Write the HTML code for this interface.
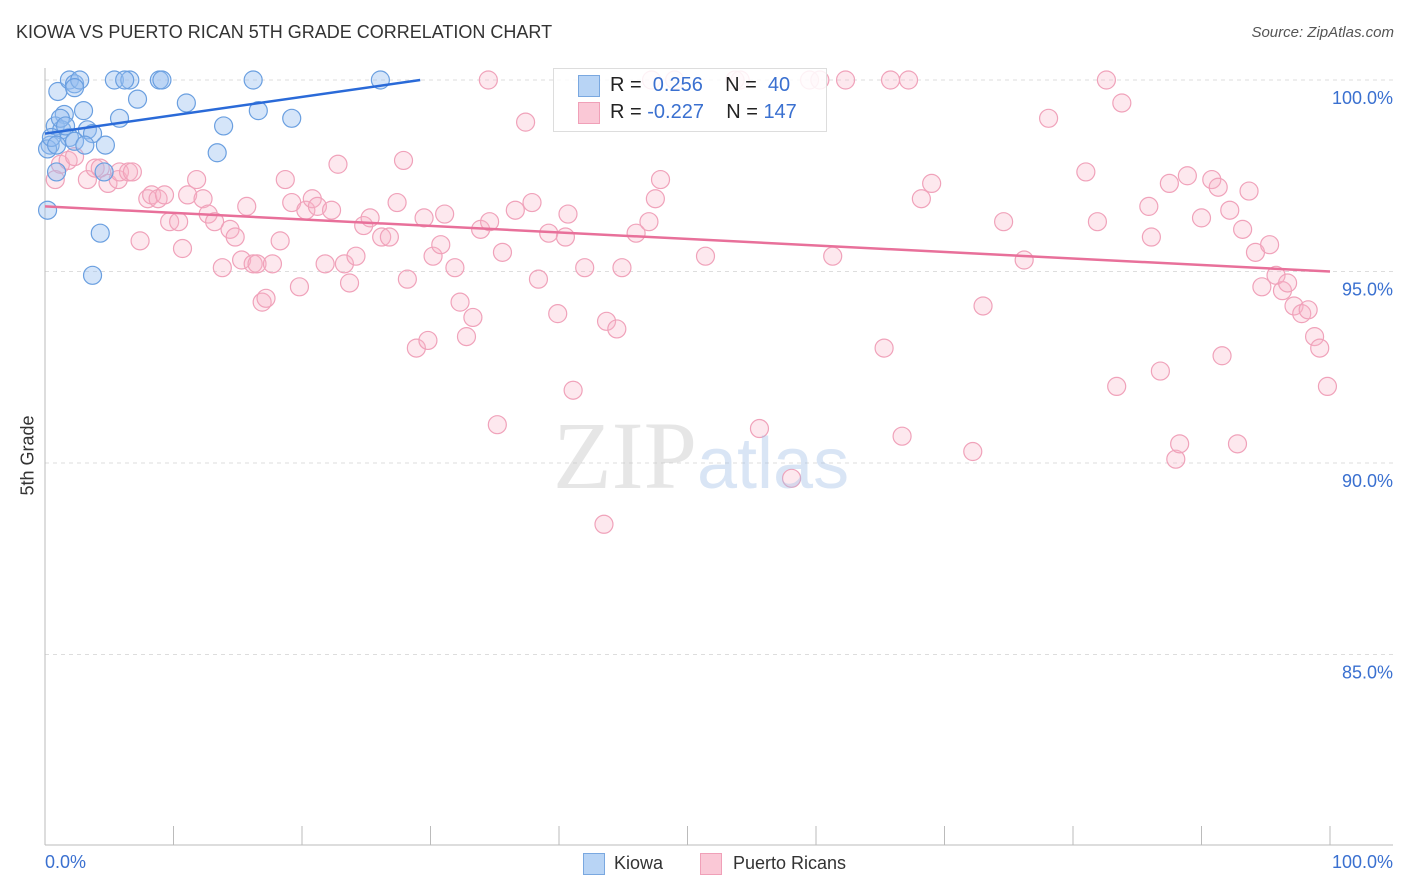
<!DOCTYPE html>
<html><head><meta charset="utf-8">
<style>
body{margin:0;background:#fff;font-family:"Liberation Sans",sans-serif;}
#wrap{position:relative;width:1406px;height:892px;overflow:hidden;}
.t{position:absolute;white-space:nowrap;}
</style></head>
<body>
<div id="wrap">
<div class="t" style="left:16px;top:22px;font-size:18px;color:#333;">KIOWA VS PUERTO RICAN 5TH GRADE CORRELATION CHART</div>
<div class="t" style="right:12px;top:24px;font-size:15px;color:#555;font-style:italic;">Source: ZipAtlas.com</div>
<div class="t" style="left:-12px;top:445px;font-size:18px;color:#333;transform:rotate(-90deg);">5th Grade</div>
<svg id="chart" width="1406" height="892" style="position:absolute;left:0;top:0"></svg>
<div class="t" style="left:553px;top:68px;width:272px;height:62px;border:1px solid #ddd;background:rgba(255,255,255,0.85);"></div>
<div class="t" style="left:578px;top:75px;width:20px;height:20px;background:#b8d4f5;border:1px solid #7aa8e0;"></div>
<div class="t" style="left:578px;top:102px;width:20px;height:20px;background:#fac8d6;border:1px solid #f0a0b8;"></div>
<div class="t" style="left:610px;top:74px;font-size:20px;color:#222;">R = &nbsp;<span style="color:#3a70d0">0.256</span>&nbsp;&nbsp;&nbsp; N = &nbsp;<span style="color:#3a70d0">40</span></div>
<div class="t" style="left:610px;top:101px;font-size:20px;color:#222;">R = <span style="color:#3a70d0">-0.227</span>&nbsp;&nbsp;&nbsp; N = <span style="color:#3a70d0">147</span></div>
<div class="t" style="left:553px;top:400px;font-size:96px;font-family:'Liberation Serif',serif;color:rgba(200,200,200,0.45);">ZIP<span style="font-family:'Liberation Sans',sans-serif;font-size:72px;color:rgba(160,190,230,0.4);">atlas</span></div>
<div class="t" style="left:45px;top:852px;font-size:18px;color:#3a70d0;">0.0%</div>
<div class="t" style="right:13px;top:852px;font-size:18px;color:#3a70d0;">100.0%</div>
<div class="t" style="left:583px;top:853px;width:20px;height:20px;background:#b8d4f5;border:1px solid #7aa8e0;"></div>
<div class="t" style="left:614px;top:853px;font-size:18px;color:#333;">Kiowa</div>
<div class="t" style="left:700px;top:853px;width:20px;height:20px;background:#fac8d6;border:1px solid #f0a0b8;"></div>
<div class="t" style="left:733px;top:853px;font-size:18px;color:#333;">Puerto Ricans</div>
</div>
<script>
const yTicks=[100,95,90,85];
const yTickLabels=["100.0%","95.0%","90.0%","85.0%"];
const xTicks=[0,10,20,30,40,50,60,70,80,90,100];
const kiowaX=[0.2,1.0,1.9,2.3,2.7,2.3,3.0,1.5,0.8,1.3,1.9,3.3,3.7,4.7,3.7,4.3,5.4,6.6,6.2,8.9,9.1,7.2,5.8,11.0,13.9,13.4,16.2,16.6,19.2,26.1,0.4,0.2,0.9,4.6,1.2,1.6,0.5,0.9,2.3,3.1];
const kiowaY=[96.6,99.7,100,99.9,100,99.8,99.2,99.1,98.8,98.7,98.5,98.7,98.6,98.3,94.9,96.0,100,100,100,100,100,99.5,99.0,99.4,98.8,98.1,100,99.2,99.0,100,98.3,98.2,97.6,97.6,99.0,98.8,98.5,98.3,98.4,98.3];
const prX=[0.8,1.2,1.8,2.3,3.3,3.9,4.3,4.9,5.7,5.8,6.5,6.8,7.4,8.0,8.3,8.8,9.3,9.7,10.4,10.7,11.1,11.8,12.3,12.7,13.2,13.8,14.4,14.8,15.3,15.7,16.2,16.5,16.9,17.2,17.7,18.3,18.7,19.2,19.8,20.3,20.8,21.2,21.8,22.3,22.8,23.3,23.7,24.2,24.8,25.3,26.2,26.8,27.4,27.9,28.2,28.9,29.5,29.8,30.2,30.8,31.1,31.9,32.3,32.8,33.3,33.9,34.5,34.6,35.2,35.6,36.6,37.4,37.9,38.4,39.2,39.9,40.5,40.7,41.1,42.0,43.5,43.7,44.5,44.9,46.0,47.0,47.5,47.9,49.0,51.4,53.7,55.6,58.1,59.5,60.3,61.3,62.3,65.3,65.8,66.7,67.2,68.2,69.0,72.2,73.0,74.6,76.2,78.1,81.0,81.9,82.6,83.4,83.8,85.9,86.1,86.8,87.5,88.0,88.3,88.9,90.0,90.8,91.3,91.6,92.2,92.8,93.2,93.7,94.2,94.7,95.3,95.8,96.3,96.7,97.2,97.8,98.3,98.8,99.2,99.8,47.2,54.1];
const prY=[97.4,97.8,97.9,98.0,97.4,97.7,97.7,97.3,97.4,97.6,97.6,97.6,95.8,96.9,97.0,96.9,97.0,96.3,96.3,95.6,97.0,97.4,96.9,96.5,96.3,95.1,96.1,95.9,95.3,96.7,95.2,95.2,94.2,94.3,95.2,95.8,97.4,96.8,94.6,96.6,96.9,96.7,95.2,96.6,97.8,95.2,94.7,95.4,96.2,96.4,95.9,95.9,96.8,97.9,94.8,93.0,96.4,93.2,95.4,95.7,96.5,95.1,94.2,93.3,93.8,96.1,100,96.3,91.0,95.5,96.6,98.9,96.8,94.8,96.0,93.9,95.9,96.5,91.9,95.1,88.4,93.7,93.5,95.1,96.0,96.3,96.9,97.4,100,95.4,100,90.9,89.6,100,100,95.4,100,93.0,100,90.7,100,96.9,97.3,90.3,94.1,96.3,95.3,99.0,97.6,96.3,100,92.0,99.4,96.7,95.9,92.4,97.3,90.1,90.5,97.5,96.4,97.4,97.2,92.8,96.6,90.5,96.1,97.1,95.5,94.6,95.7,94.9,94.5,94.7,94.1,93.9,94.0,93.3,93.0,92.0,100,100];
const kiowaTrend=[[0,98.6],[29.2,100]];
const prTrend=[[0,96.7],[100,95.0]];
const X0=45,X1=1330,YT=80,PPU=38.3;
const sx=v=>X0+(X1-X0)*v/100;
const sy=v=>YT+(100-v)*PPU;
const svg=document.getElementById('chart');
const NS='http://www.w3.org/2000/svg';
function mk(tag,attrs){const e=document.createElementNS(NS,tag);for(const k in attrs)e.setAttribute(k,attrs[k]);svg.appendChild(e);return e;}
yTicks.forEach((t,i)=>{
 const g=mk('line',{x1:X0,x2:1393,y1:sy(t),y2:sy(t),stroke:'#ddd','stroke-dasharray':'4,4'});
 
 
 const tx=mk('text',{x:1393,y:sy(t)+24,'text-anchor':'end','font-size':18,fill:'#3a70d0','font-family':'Liberation Sans, sans-serif'});
 tx.textContent=yTickLabels[i];
 
 
});
const ax=mk('line',{x1:X0,x2:X0,y1:68,y2:845,stroke:'#bbb'});


const bx=mk('line',{x1:X0,x2:1393,y1:845,y2:845,stroke:'#bbb'});


xTicks.forEach(t=>{
 const l=mk('line',{x1:sx(t),x2:sx(t),y1:826,y2:845,stroke:'#bbb'});
 
 
});
prX.forEach((x,i)=>{
 const c=mk('circle',{cx:sx(x),cy:sy(prY[i]),r:9,fill:'rgba(248,180,200,0.3)',stroke:'#f0a2ba','stroke-width':1.2});
 
 
});
kiowaX.forEach((x,i)=>{
 const c=mk('circle',{cx:sx(x),cy:sy(kiowaY[i]),r:9,fill:'rgba(150,190,240,0.4)',stroke:'#6a9fe0','stroke-width':1.2});
 
 
});
const l1=mk('line',{x1:sx(prTrend[0][0]),y1:sy(prTrend[0][1]),x2:sx(prTrend[1][0]),y2:sy(prTrend[1][1]),stroke:'#e8709a','stroke-width':2.5});


const l2=mk('line',{x1:sx(kiowaTrend[0][0]),y1:sy(kiowaTrend[0][1]),x2:sx(kiowaTrend[1][0]),y2:sy(kiowaTrend[1][1]),stroke:'#2a6ad8','stroke-width':2.5});


</script>
</body></html>
